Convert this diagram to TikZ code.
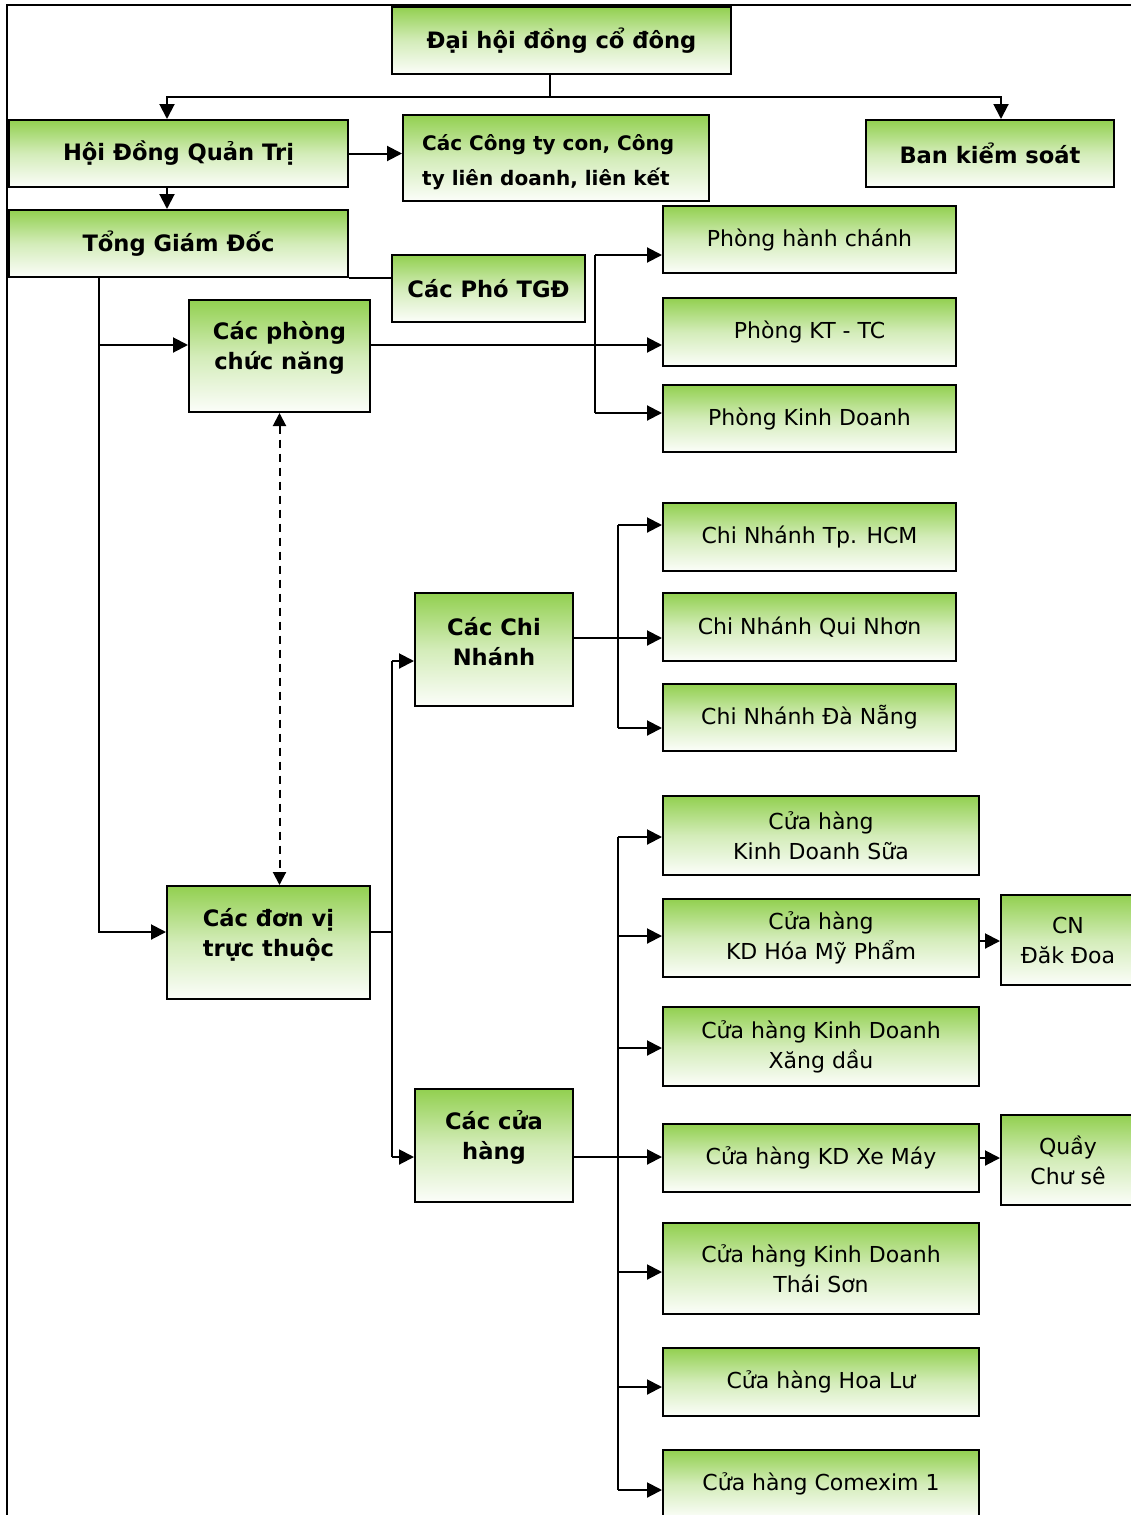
\documentclass[tikz,border=0pt]{standalone}
\usepackage{fontspec}
\setmainfont{DejaVu Sans}
\usetikzlibrary{arrows.meta}
\definecolor{gtop}{RGB}{146,208,80}
\begin{document}
\begin{tikzpicture}[x=1pt,y=-1pt,
  box/.style={draw=black, line width=2pt, top color=gtop, bottom color=white!97!gtop, middle color=gtop!40!white,
    inner sep=0pt, align=center, font=\fontsize{22}{30}\selectfont},
  bbox/.style={box, font=\fontsize{22.6}{30}\selectfont\bfseries},
  txt/.style={align=center, inner sep=0pt, font=\fontsize{22.6}{30}\selectfont\bfseries},
  ln/.style={draw=black, line width=2pt},
  arr/.style={ln, -{Triangle[length=15pt,width=15pt]}},
  darr/.style={ln, dashed, dash pattern=on 8pt off 6pt, {Triangle[length=13pt,width=13pt]}-{Triangle[length=13pt,width=13pt]}}
]
\useasboundingbox (0,0) rectangle (1131,1515);
% frame
\draw[line width=2pt] (7,1515) -- (7,5) -- (1131,5);

% boxes
\node[bbox, minimum width=339pt, minimum height=67pt] (dh) at (561.5,40.5) {Đại hội đồng cổ đông};
\node[bbox, minimum width=339pt, minimum height=67pt] (hdqt) at (178.5,153.5) {Hội Đồng Quản Trị};
\node[box, minimum width=306pt, minimum height=86pt] (cty) at (556,158) {};
\node[anchor=west, align=left, inner sep=0pt, font=\fontsize{20}{35}\selectfont\bfseries] (ctyT) at (422,162) {Các Công ty con, Công\\ty liên doanh, liên kết};
\node[bbox, minimum width=248pt, minimum height=67pt] (bks) at (990,153.5) {Ban kiểm soát};
\node[bbox, minimum width=339pt, minimum height=67pt] (tgd) at (178.5,243.5) {Tổng Giám Đốc};
\node[bbox, minimum width=193pt, minimum height=67pt] (ptgd) at (488.5,288.5) {Các Phó TGĐ};

\node[box, minimum width=181pt, minimum height=112pt] (pcn) at (279.5,356) {};
\node[txt] (pcnT) at ([yshift=8pt]pcn.center) {Các phòng\\chức năng};

\node[box, minimum width=293pt, minimum height=67pt] (ph1) at (809.5,239.5) {Phòng hành chánh};
\node[box, minimum width=293pt, minimum height=68pt] (ph2) at (809.5,332) {Phòng KT - TC};
\node[box, minimum width=293pt, minimum height=67pt] (ph3) at (809.5,418.5) {Phòng Kinh Doanh};

\node[box, minimum width=293pt, minimum height=68pt] (cn1) at (809.5,537) {Chi Nhánh Tp. HCM};
\node[box, minimum width=293pt, minimum height=68pt] (cn2) at (809.5,627) {Chi Nhánh Qui Nhơn};
\node[box, minimum width=293pt, minimum height=67pt] (cn3) at (809.5,717.5) {Chi Nhánh Đà Nẵng};

\node[box, minimum width=158pt, minimum height=113pt] (ccn) at (494,649.5) {};
\node[txt] (ccnT) at ([yshift=8pt]ccn.center) {Các Chi\\Nhánh};

\node[box, minimum width=203pt, minimum height=113pt] (dv) at (268.5,942.5) {};
\node[txt] (dvT) at ([yshift=8pt]dv.center) {Các đơn vị\\trực thuộc};

\node[box, minimum width=158pt, minimum height=113pt] (cch) at (494,1145.5) {};
\node[txt] (cchT) at ([yshift=8pt]cch.center) {Các cửa\\hàng};

\node[box, minimum width=316pt, minimum height=79pt] (s1) at (821,835.5) {Cửa hàng\\Kinh Doanh Sữa};
\node[box, minimum width=316pt, minimum height=78pt] (s2) at (821,938) {Cửa hàng\\KD Hóa Mỹ Phẩm};
\node[box, minimum width=316pt, minimum height=79pt] (s3) at (821,1046.5) {Cửa hàng Kinh Doanh\\Xăng dầu};
\node[box, minimum width=316pt, minimum height=68pt] (s4) at (821,1158) {Cửa hàng KD Xe Máy};
\node[box, minimum width=316pt, minimum height=91pt] (s5) at (821,1268.5) {Cửa hàng Kinh Doanh\\Thái Sơn};
\node[box, minimum width=316pt, minimum height=68pt] (s6) at (821,1382) {Cửa hàng Hoa Lư};
\node[box, minimum width=316pt, minimum height=68pt] (s7) at (821,1484) {Cửa hàng Comexim 1};

\node[box, minimum width=134pt, minimum height=90pt] (dd) at (1068,940) {CN\\Đăk Đoa};
\node[box, minimum width=134pt, minimum height=90pt] (qcs) at (1068,1160) {Quầy\\Chư sê};

% bus coordinates
\coordinate (j0) at (550,97);
\coordinate (bx1) at (99,0);
\coordinate (bx2) at (595,0);
\coordinate (bx3) at (392,0);
\coordinate (bx4) at (618,0);

% top
\draw[ln] (dh.south -| j0) -- (j0);
\draw[arr] (j0) -| ([xshift=-11.5pt]hdqt.north);
\draw[arr] (j0) -| ([xshift=11pt]bks.north);
\draw[arr] (hdqt.east) -- (hdqt.east -| cty.west);
\draw[arr] ([xshift=-11.5pt]hdqt.south) -- ([xshift=-11.5pt]tgd.north);
\draw[ln] (tgd.south east) -- (tgd.south east -| ptgd.west);

% TGD bus
\coordinate (pcnIn) at ([yshift=11pt]pcn.west);
\coordinate (dvIn) at ([yshift=10.5pt]dv.west);
\draw[arr] (tgd.south -| bx1) |- (dvIn);
\draw[arr] (bx1 |- pcnIn) -- (pcnIn);

% phong chuc nang
\coordinate (ph1In) at ([yshift=-15.5pt]ph1.west);
\coordinate (ph3In) at ([yshift=5.5pt]ph3.west);
\draw[arr] ([yshift=11pt]pcn.east) -- (ph2.west |- pcnIn);
\draw[ln] (bx2 |- ph1In) -- (bx2 |- ph3In);
\draw[arr] (bx2 |- ph1In) -- (ph1In);
\draw[arr] (bx2 |- ph3In) -- (ph3In);

% dashed
\draw[darr] (pcn.south) -- (pcn.south |- dv.north);

% don vi truc thuoc
\coordinate (dvOut) at ([yshift=10.5pt]dv.east);
\coordinate (ccnIn) at ([yshift=-11.5pt]ccn.west);
\coordinate (cchIn) at ([yshift=-11.5pt]cch.west);
\draw[ln] (dvOut) -- (bx3 |- dvOut);
\draw[ln] (bx3 |- ccnIn) -- (bx3 |- cchIn);
\draw[arr] (bx3 |- ccnIn) -- (ccnIn);
\draw[arr] (bx3 |- cchIn) -- (cchIn);

% chi nhanh
\coordinate (ccnOut) at ([yshift=11.5pt]ccn.east);
\coordinate (cn1In) at ([yshift=12pt]cn1.west);
\coordinate (cn3In) at ([yshift=-10.5pt]cn3.west);
\draw[arr] (ccnOut) -- (cn2.west |- ccnOut);
\draw[ln] (bx4 |- cn1In) -- (bx4 |- cn3In);
\draw[arr] (bx4 |- cn1In) -- (cn1In);
\draw[arr] (bx4 |- cn3In) -- (cn3In);

% cua hang
\coordinate (cchOut) at ([yshift=-11.5pt]cch.east);
\coordinate (s1In) at ([yshift=-1.5pt]s1.west);
\coordinate (s2In) at ([yshift=2pt]s2.west);
\coordinate (s3In) at ([yshift=-1.5pt]s3.west);
\coordinate (s5In) at ([yshift=-3.5pt]s5.west);
\coordinate (s6In) at ([yshift=-5pt]s6.west);
\coordinate (s7In) at ([yshift=-6pt]s7.west);
\draw[arr] (cchOut) -- (s4.west |- cchOut);
\draw[ln] (bx4 |- s1In) -- (bx4 |- s7In);
\draw[arr] (bx4 |- s1In) -- (s1In);
\draw[arr] (bx4 |- s2In) -- (s2In);
\draw[arr] (bx4 |- s3In) -- (s3In);
\draw[arr] (bx4 |- s5In) -- (s5In);
\draw[arr] (bx4 |- s6In) -- (s6In);
\draw[arr] (bx4 |- s7In) -- (s7In);

% side boxes
\draw[arr] ([yshift=-3pt]s2.east) -- ([yshift=-3pt]s2.east -| dd.west);
\draw[arr] (s4.east) -- (s4.east -| qcs.west);
\end{tikzpicture}
\end{document}
